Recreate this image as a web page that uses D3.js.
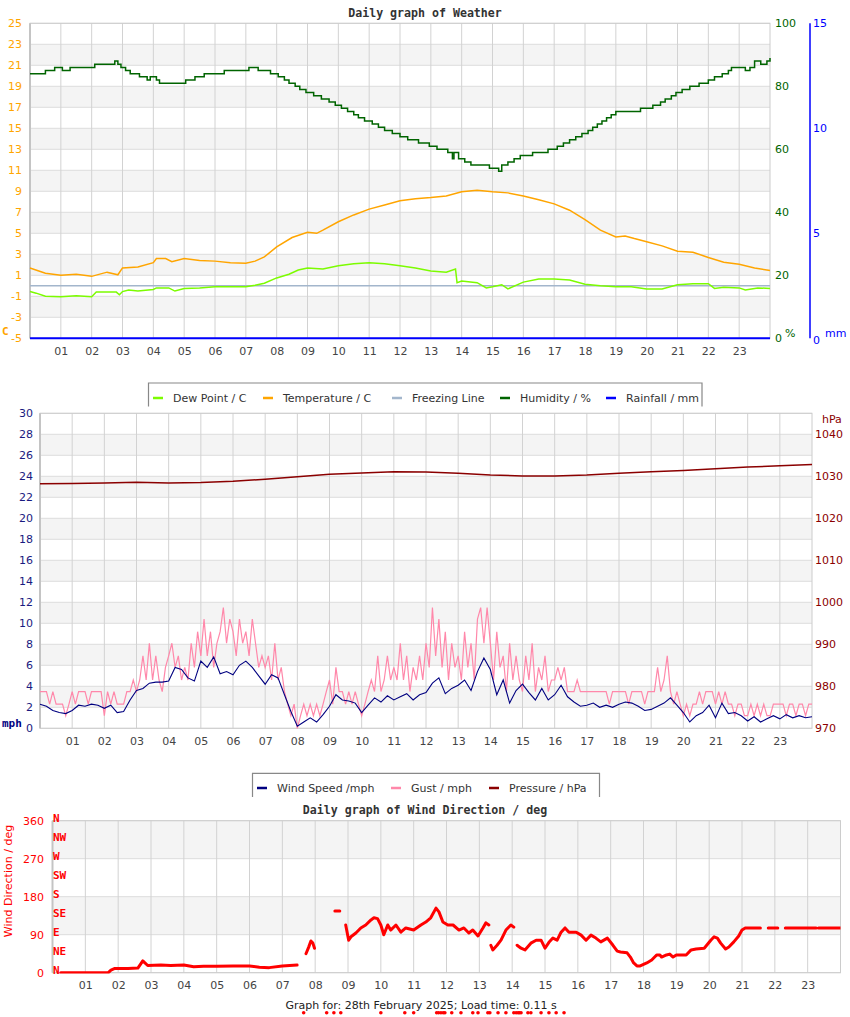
<!DOCTYPE html>
<html><head><meta charset="utf-8">
<script src="https://cdn.jsdelivr.net/npm/d3@7"></script>
<style>body{margin:0;background:#fff}svg{display:block}</style>
</head><body><svg id="c" width="850" height="1017"></svg>
<script>
// ---------------- DATA ----------------
const hourTicks = [1,2,3,4,5,6,7,8,9,10,11,12,13,14,15,16,17,18,19,20,21,22,23];
const hourLabels = ["01","02","03","04","05","06","07","08","09","10","11","12","13","14","15","16","17","18","19","20","21","22","23"];
const tempTicks = [-5,-3,-1,1,3,5,7,9,11,13,15,17,19,21,23,25];
const humTicks = [0,20,40,60,80,100];
const rainTicks = [0,5,10,15];
const windTicks = [0,2,4,6,8,10,12,14,16,18,20,22,24,26,28,30];
const pressTicks = [970,980,990,1000,1010,1020,1030,1040];
const dirTicks = [0,90,180,270,360];
const compassTicks = [0,45,90,135,180,225,270,315,360];
const compassLabels = ["N","NE","E","SE","S","SW","W","NW","N"];

const legend1Labels = ["Dew Point / C","Temperature / C","Freezing Line","Humidity / %","Rainfall / mm"];
const legend2Labels = ["Wind Speed /mph","Gust / mph","Pressure / hPa"];

// [hour, °C]
const temperature = [[0,1.7],[0.5,1.2],[1,1.0],[1.5,1.1],[2,0.9],[2.5,1.3],[2.85,1.05],[3,1.7],[3.5,1.8],[4,2.2],[4.1,2.6],[4.4,2.6],[4.6,2.3],[5,2.6],[5.5,2.4],[6,2.35],[6.5,2.2],[7,2.15],[7.3,2.35],[7.6,2.75],[8,3.7],[8.5,4.6],[9,5.1],[9.3,5.0],[9.5,5.3],[10,6.1],[10.5,6.75],[11,7.3],[11.5,7.7],[12,8.1],[12.5,8.3],[13,8.4],[13.5,8.55],[14,8.95],[14.5,9.1],[15,8.95],[15.5,8.85],[16,8.55],[16.5,8.2],[17,7.8],[17.5,7.2],[18,6.3],[18.5,5.3],[19,4.65],[19.3,4.75],[19.6,4.5],[20,4.2],[20.5,3.8],[21,3.3],[21.5,3.2],[22,2.7],[22.5,2.25],[23,2.05],[23.5,1.7],[24,1.45]];
const dewPoint = [[0,-0.55],[0.2,-0.7],[0.5,-1.0],[1,-1.05],[1.5,-0.95],[2,-1.05],[2.15,-0.6],[2.8,-0.6],[2.9,-0.85],[3,-0.55],[3.2,-0.4],[3.5,-0.5],[4,-0.35],[4.1,-0.2],[4.5,-0.2],[4.7,-0.5],[5,-0.25],[5.5,-0.2],[6,-0.1],[6.5,-0.08],[7,-0.1],[7.3,0.05],[7.6,0.25],[8,0.75],[8.4,1.1],[8.7,1.5],[9,1.7],[9.5,1.6],[10,1.9],[10.5,2.1],[11,2.2],[11.5,2.1],[12,1.9],[12.5,1.7],[13,1.4],[13.5,1.3],[13.8,1.6],[13.85,0.3],[14,0.45],[14.5,0.3],[14.8,-0.2],[15,-0.1],[15.3,0.1],[15.5,-0.3],[16,0.35],[16.5,0.65],[17,0.65],[17.5,0.55],[18,0.15],[18.5,0],[19,-0.1],[19.5,-0.1],[20,-0.3],[20.5,-0.3],[21,0.1],[21.5,0.2],[22,0.2],[22.2,-0.25],[22.5,-0.15],[23,-0.2],[23.2,-0.4],[23.6,-0.2],[24,-0.25]];
const freezing = [[0,0],[24,0]];
// [hour, %] stepped
const humidity = [[0,84],[0.5,85],[0.8,86],[1.05,85],[1.3,86],[2.1,87],[2.75,88],[2.85,87],[2.95,86],[3.1,85],[3.25,84],[3.55,83],[3.8,82],[3.9,83],[4.1,82],[4.2,81],[5.05,82],[5.35,83],[5.65,84],[6.3,85],[7.1,86],[7.4,85],[7.8,84],[8.05,83],[8.25,82],[8.4,81],[8.6,80],[8.75,79],[8.95,78],[9.2,77],[9.45,76],[9.7,75],[9.9,74],[10.1,73],[10.3,72],[10.5,71],[10.65,70],[10.85,69],[11.1,68],[11.3,67],[11.5,66],[11.75,65],[12.0,64],[12.25,63],[12.6,62],[12.95,61],[13.2,60],[13.55,59],[13.7,57],[13.75,59],[13.9,57],[14.1,56],[14.3,55],[14.9,54],[15.2,53],[15.3,55],[15.5,56],[15.7,57],[15.9,58],[16.3,59],[16.8,60],[17.1,61],[17.3,62],[17.5,63],[17.7,64],[17.9,65],[18.1,66],[18.25,67],[18.4,68],[18.55,69],[18.7,70],[18.85,71],[19.0,72],[19.8,73],[20.2,74],[20.45,75],[20.6,76],[20.8,77],[20.95,78],[21.15,79],[21.4,80],[21.7,81],[22.0,82],[22.2,83],[22.45,84],[22.65,85],[22.75,86],[23.2,85],[23.35,86],[23.5,88],[23.7,87],[23.9,88],[24,89]];
const rainfall = [[0,0],[6,0],[12,0],[18,0],[24,0]];

// wind speed every 0.2 h, mph
const windStep = 0.2;
const windSpeed = [2.3,2.1,1.7,1.5,1.4,1.7,2.2,2.1,2.3,2.2,
1.9,2.2,1.5,1.6,2.7,3.6,3.8,4.3,4.4,4.4,
4.5,5.8,5.6,4.8,4.5,6.4,5.8,6.8,5.2,5.4,
5.1,6.0,6.4,5.8,5.0,4.2,5.1,4.8,3.2,1.6,
0.2,0.6,1.0,0.6,1.3,2.1,3.2,2.7,2.6,2.4,
1.5,2.2,2.9,2.5,3.1,2.7,3.0,3.3,2.7,3.2,
3.4,4.3,4.8,3.3,3.8,4.1,4.6,3.6,5.4,6.7,
5.6,3.2,4.6,2.4,3.6,4.2,3.4,2.7,3.8,2.7,
3.2,4.1,3.0,2.5,2.1,2.2,2.4,2.0,2.2,2.0,
2.3,2.5,2.4,2.1,1.7,1.8,2.1,2.4,2.9,2.2,
1.5,0.6,1.2,1.5,2.2,1.0,2.4,1.4,1.5,1.2,
0.7,1.1,0.6,0.9,1.2,0.9,1.3,1.0,1.2,1.0,
1.1];
// gust every 0.1 h, mph
const gustStep = 0.1;
const gust = [3.5,3.5,3.5,2.3,3.5,2.3,2.3,2.3,1.2,2.3,
3.5,2.3,3.5,3.5,3.5,2.3,3.5,3.5,3.5,3.5,
1.2,3.5,2.3,3.5,2.3,2.3,2.3,3.5,3.5,4.6,
3.5,4.6,6.9,4.6,8.1,4.6,6.9,4.6,3.5,5.8,
6.9,8.1,5.8,6.9,4.6,5.8,4.6,8.1,5.8,9.2,
6.9,10.4,6.9,9.2,5.8,8.1,9.2,11.5,8.1,10.4,
9.2,6.9,10.4,8.1,9.2,6.9,10.4,8.1,5.8,6.9,
5.8,6.9,4.6,8.1,4.6,5.8,3.5,2.3,1.2,2.3,
0.0,1.2,2.3,1.2,2.3,1.2,2.3,1.2,2.3,3.5,
4.6,2.3,5.8,3.5,3.5,2.3,3.5,2.3,3.5,2.3,
1.2,2.3,3.5,4.6,3.5,6.9,3.5,4.6,6.9,4.6,
5.8,4.6,8.1,4.6,6.9,3.5,5.8,4.6,6.9,4.6,
8.1,5.8,11.5,6.9,10.4,5.8,9.2,4.6,8.1,5.8,
6.9,4.6,9.2,5.8,8.1,4.6,10.4,11.5,8.1,11.5,
8.1,4.6,9.2,5.8,6.9,3.5,8.1,4.6,6.9,4.6,
3.5,6.9,4.6,8.1,3.5,5.8,4.6,6.9,3.5,4.6,
4.6,5.8,4.6,5.8,3.5,3.5,3.5,4.6,3.5,3.5,
3.5,3.5,3.5,3.5,3.5,3.5,3.5,2.3,3.5,3.5,
3.5,3.5,3.5,2.3,3.5,3.5,3.5,3.5,2.3,3.5,
3.5,3.5,5.8,3.5,4.6,6.9,3.5,2.3,3.5,2.3,
1.2,2.3,1.2,2.3,2.3,3.5,2.3,3.5,3.5,3.5,
2.3,3.5,2.3,3.5,2.3,2.3,1.2,2.3,2.3,1.2,
1.2,2.3,1.2,2.3,1.2,2.3,1.2,1.2,2.3,2.3,
2.3,2.3,1.2,2.3,2.3,1.2,2.3,2.3,1.2,2.3,
2.3];
// pressure hourly, hPa
const pressure = [1028.2,1028.3,1028.4,1028.6,1028.4,1028.5,1028.8,1029.3,1029.9,1030.5,1030.8,1031.1,1031.0,1030.7,1030.3,1030.1,1030.1,1030.3,1030.7,1031.1,1031.4,1031.8,1032.2,1032.5,1032.8];

// wind direction [hour, deg], null = gap
const windDir = [[0.25,0],[1.0,0],[1.7,0],[1.78,6],[1.9,10],[2.3,10],[2.6,11],[2.75,28],[2.9,17],[3.3,18],[3.6,17],[4.0,18],[4.3,14],[4.6,15],[5.0,15],[5.5,16],[6.0,16],[6.3,13],[6.6,12],[7.0,16],[7.45,18],null,
[7.72,45],[7.8,60],[7.87,75],[7.93,70],[7.98,58],null,
[8.6,146],[8.75,146],null,
[8.93,113],[9.02,77],[9.09,85],[9.24,94],[9.39,106],[9.54,113],[9.7,125],[9.79,130],[9.9,128],[10.0,113],[10.09,90],[10.21,113],[10.3,101],[10.46,113],[10.61,96],[10.76,106],[11.0,101],[11.22,113],[11.37,120],[11.52,130],[11.68,153],[11.77,144],[11.89,120],[12.04,113],[12.2,113],[12.38,101],[12.53,106],[12.68,94],[12.8,101],[12.96,87],[13.11,106],[13.2,118],[13.29,113],null,
[13.35,65],[13.41,54],[13.54,65],[13.66,77],[13.81,101],[13.96,113],[14.05,108],null,
[14.15,65],[14.27,58],[14.39,54],[14.57,70],[14.73,77],[14.88,77],[15.0,58],[15.12,72],[15.24,82],[15.37,77],[15.49,96],[15.61,106],[15.73,96],[15.95,96],[16.1,89],[16.25,77],[16.4,89],[16.55,82],[16.7,73],[16.9,82],[17.07,65],[17.2,51],[17.3,49],[17.5,47],[17.6,37],[17.7,23],[17.8,16],[17.9,16],[18.1,23],[18.25,30],[18.4,42],[18.5,42],[18.55,37],[18.7,42],[18.8,44],[18.9,37],[19.0,42],[19.3,42],[19.45,54],[19.6,56],[19.85,58],[20.05,77],[20.15,85],[20.25,82],[20.35,70],[20.5,56],[20.6,61],[20.75,73],[20.9,87],[21.0,101],[21.1,106],[21.56,106],null,
[21.8,106],[22.09,106],null,[22.32,106],[23.26,106],null,[23.33,106],[24.0,106]];
// samples without a valid direction (drawn below the plot)
const noDirection = [[7.65,-95],[8.35,-95],[8.57,-95],[8.78,-95],[10.0,-95],[10.73,-95],[11.0,-95],[11.7,-95],[11.76,-95],[11.83,-95],[11.9,-95],[11.95,-95],[12.16,-95],[12.44,-95],[12.8,-95],[12.96,-95],[13.26,-95],[13.32,-95],[13.57,-95],[13.81,-95],[14.05,-95],[14.12,-95],[14.18,-95],[14.22,-95],[14.27,-95],[14.48,-95],[14.57,-95],[14.88,-95],[15.12,-95],[15.34,-95],[15.58,-95]];

// ---------------- DRAW ----------------
const SANS = '"DejaVu Sans", sans-serif';
const MONO = '"DejaVu Sans Mono", monospace';
const svg = d3.select('#c');
const fmt = d => String(d);

function frame(x, y, bands, grid) {
  const [x0, x1] = x.range(), [yb, yt] = y.range();
  const g = svg.append('g');
  g.append('rect').attr('x', x0).attr('y', yt).attr('width', x1 - x0).attr('height', yb - yt).attr('fill', '#fff');
  bands.forEach(([a, b]) => g.append('rect').attr('x', x0).attr('width', x1 - x0)
    .attr('y', y(b)).attr('height', y(a) - y(b)).attr('fill', '#f4f4f4'));
  grid.forEach(v => g.append('line').attr('x1', x0).attr('x2', x1).attr('y1', y(v)).attr('y2', y(v))
    .attr('stroke', '#dcdcdc').attr('stroke-width', 1));
  hourTicks.forEach(h => g.append('line').attr('x1', x(h)).attr('x2', x(h)).attr('y1', yt).attr('y2', yb)
    .attr('stroke', '#d2d2d2').attr('stroke-width', 1));
  g.append('rect').attr('x', x0).attr('y', yt).attr('width', x1 - x0).attr('height', yb - yt)
    .attr('fill', 'none').attr('stroke', '#cccccc');
  g.append('line').attr('x1', x0).attr('x2', x0).attr('y1', yt).attr('y2', yb).attr('stroke', '#c4c4c4').attr('stroke-width', 2);
  return g;
}
function styleAxis(g, color, size, family, weight) {
  g.select('.domain').remove();
  g.attr('font-family', null).attr('font-size', null);
  g.selectAll('text').attr('fill', color).style('font-family', family || SANS)
    .style('font-size', size + 'px').style('font-weight', weight || 'normal');
  return g;
}
function xAxis(x, yPos) {
  const g = svg.append('g').attr('transform', `translate(0,${yPos})`)
    .call(d3.axisBottom(x).tickValues(hourTicks).tickFormat((d, i) => hourLabels[i]).tickSize(0).tickPadding(0));
  styleAxis(g, '#444', 11);
}
function title(txt, x, y) {
  svg.append('text').attr('x', x).attr('y', y).attr('text-anchor', 'middle').text(txt)
    .style('font-family', MONO).style('font-weight', 'bold').style('font-size', '11.6px').attr('fill', '#333');
}
function plain(txt, x, y, color, opts = {}) {
  return svg.append('text').attr('x', x).attr('y', y).text(txt).attr('fill', color)
    .attr('text-anchor', opts.anchor || 'start').attr('dominant-baseline', 'central')
    .style('font-family', opts.family || SANS).style('font-size', (opts.size || 11) + 'px')
    .style('font-weight', opts.weight || 'normal');
}
function legend(x0, x1, yTop, yBot, labels, colors, swatchX, textY) {
  const g = svg.append('g');
  g.append('rect').attr('x', x0).attr('y', yTop).attr('width', x1 - x0).attr('height', yBot - yTop).attr('fill', '#fff');
  g.append('path').attr('d', `M${x0},${yBot}V${yTop}H${x1}V${yBot}`).attr('fill', 'none').attr('stroke', '#888').attr('stroke-width', 1.2);
  labels.forEach((l, i) => {
    g.append('line').attr('x1', swatchX[i]).attr('x2', swatchX[i] + 10).attr('y1', textY - 3.5).attr('y2', textY - 3.5)
      .attr('stroke', colors[i]).attr('stroke-width', 2.5);
    g.append('text').attr('x', swatchX[i] + 20).attr('y', textY).text(l).attr('fill', '#333')
      .style('font-family', SANS).style('font-size', '11px');
  });
}

// ===== Chart 1 =====
const x1 = d3.scaleLinear([0, 24], [30, 770]);
const yT = d3.scaleLinear([-5, 25], [338.3, 23.3]);
const yH = d3.scaleLinear([0, 100], [338.3, 23.3]);
const yR = d3.scaleLinear([0, 15], [338.3, 23.3]);
title('Daily graph of Weather', 425, 17);
frame(x1, yT, [[-3, -1], [1, 3], [5, 7], [9, 11], [13, 15], [17, 19], [21, 23]], tempTicks);
const lineT = d3.line().x(d => x1(d[0])).y(d => yT(d[1]));
svg.append('path').datum(freezing).attr('d', lineT).attr('fill', 'none').attr('stroke', '#a3b6cc').attr('stroke-width', 1.5);
svg.append('path').datum(dewPoint).attr('d', lineT).attr('fill', 'none').attr('stroke', '#7CFC00').attr('stroke-width', 1.5);
svg.append('path').datum(temperature).attr('d', lineT).attr('fill', 'none').attr('stroke', '#FFA500').attr('stroke-width', 1.5);
svg.append('path').datum(humidity).attr('d', d3.line().curve(d3.curveStepAfter).x(d => x1(d[0])).y(d => yH(d[1])))
  .attr('fill', 'none').attr('stroke', '#006400').attr('stroke-width', 1.5);
svg.append('path').datum(rainfall).attr('d', d3.line().x(d => x1(d[0])).y(d => yR(d[1])))
  .attr('fill', 'none').attr('stroke', '#0000FF').attr('stroke-width', 2);
styleAxis(svg.append('g').attr('transform', 'translate(22,0)').call(d3.axisLeft(yT).tickValues(tempTicks).tickFormat(fmt).tickSize(0).tickPadding(0)), '#FFA500', 11);
styleAxis(svg.append('g').attr('transform', 'translate(775,0)').call(d3.axisRight(yH).tickValues(humTicks).tickFormat(fmt).tickSize(0).tickPadding(0)), '#006400', 11);
const rAx = styleAxis(svg.append('g').attr('transform', 'translate(810,0)').call(d3.axisRight(yR).tickValues(rainTicks).tickFormat(fmt).tickSize(0).tickPadding(3)), '#0000FF', 11);
rAx.selectAll('.tick').filter(d => d === 0).select('text').attr('dy', '0.5em');
svg.append('line').attr('x1', 810).attr('x2', 810).attr('y1', yR(15)).attr('y2', yR(0)).attr('stroke', '#0000FF').attr('stroke-width', 1.5);
plain('C', 2, 331, '#FFA500', {family: MONO, weight: 'bold', size: 11});
plain('%', 785, 333, '#006400', {size: 11});
plain('mm', 825, 333, '#0000FF', {size: 11});
xAxis(x1, 347);
legend(148.5, 702, 383, 406.5, legend1Labels, ['#7CFC00', '#FFA500', '#a3b6cc', '#006400', '#0000FF'], [153, 263, 392, 500, 606], 401.5);

// ===== Chart 2 =====
const x2 = d3.scaleLinear([0, 24], [40, 812]);
const yW = d3.scaleLinear([0, 30], [728.3, 413.3]);
const yP = d3.scaleLinear([970, 1045], [728.3, 413.3]);
frame(x2, yW, [[2, 4], [6, 8], [10, 12], [14, 16], [18, 20], [22, 24], [26, 28]], windTicks);
svg.append('path').datum(gust).attr('d', d3.line().x((d, i) => x2(i * gustStep)).y(d => yW(d)))
  .attr('fill', 'none').attr('stroke', '#FF88AA').attr('stroke-width', 1.2);
svg.append('path').datum(windSpeed).attr('d', d3.line().x((d, i) => x2(i * windStep)).y(d => yW(d)))
  .attr('fill', 'none').attr('stroke', '#000080').attr('stroke-width', 1.1);
svg.append('path').datum(pressure).attr('d', d3.line().x((d, i) => x2(i)).y(d => yP(d)))
  .attr('fill', 'none').attr('stroke', '#8B0000').attr('stroke-width', 1.5);
styleAxis(svg.append('g').attr('transform', 'translate(33,0)').call(d3.axisLeft(yW).tickValues(windTicks).tickFormat(fmt).tickSize(0).tickPadding(0)), '#1a1a80', 11);
styleAxis(svg.append('g').attr('transform', 'translate(815,0)').call(d3.axisRight(yP).tickValues(pressTicks).tickFormat(fmt).tickSize(0).tickPadding(0)), '#8B0000', 11);
plain('hPa', 822, 419, '#8B0000', {size: 11});
plain('mph', 2, 723, '#000080', {family: MONO, weight: 'bold', size: 11});
xAxis(x2, 737);
legend(252.5, 599.5, 773.3, 797, legend2Labels, ['#000080', '#FF88AA', '#8B0000'], [257, 391, 489], 791.5);

// ===== Chart 3 =====
const x3 = d3.scaleLinear([0, 24], [52.5, 840.5]);
const yD = d3.scaleLinear([0, 360], [972.7, 820.7]);
title('Daily graph of Wind Direction / deg', 425, 814);
frame(x3, yD, [[90, 180], [270, 360]], dirTicks);
svg.append('clipPath').attr('id', 'dclip').append('rect').attr('x', 52.5).attr('y', 818).attr('width', 788).attr('height', 155.6);
svg.append('path').datum(windDir).attr('clip-path', 'url(#dclip)')
  .attr('d', d3.line().defined(d => d != null).x(d => x3(d[0])).y(d => yD(d[1])))
  .attr('fill', 'none').attr('stroke', '#FF0000').attr('stroke-width', 3).attr('stroke-linejoin', 'round').attr('stroke-linecap', 'round');
svg.append('g').selectAll('circle').data(noDirection).join('circle')
  .attr('cx', d => x3(d[0])).attr('cy', d => yD(d[1])).attr('r', 1.8).attr('fill', '#FF0000');
styleAxis(svg.append('g').attr('transform', 'translate(44,0)').call(d3.axisLeft(yD).tickValues(dirTicks).tickFormat(fmt).tickSize(0).tickPadding(0)), '#FF0000', 11);
styleAxis(svg.append('g').attr('transform', 'translate(53,-2.4)').call(d3.axisRight(yD).tickValues(compassTicks).tickFormat((d, i) => compassLabels[i]).tickSize(0).tickPadding(0)), '#FF0000', 11, MONO, 'bold');
svg.append('text').attr('transform', 'translate(12,881) rotate(-90)').attr('text-anchor', 'middle').text('Wind Direction / deg')
  .attr('fill', '#FF0000').style('font-family', SANS).style('font-size', '11px');
xAxis(x3, 981);
svg.append('text').attr('x', 421).attr('y', 1008.5).attr('text-anchor', 'middle').text('Graph for: 28th February 2025; Load time: 0.11 s')
  .attr('fill', '#222').style('font-family', SANS).style('font-size', '11px');
</script></body></html>
